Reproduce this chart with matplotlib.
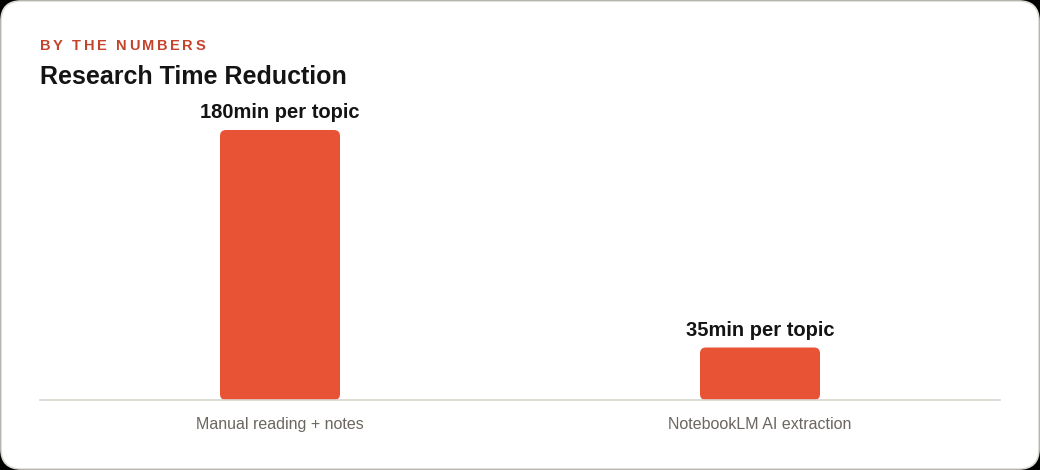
import matplotlib
matplotlib.use("Agg")
import matplotlib.pyplot as plt
from matplotlib.patches import FancyBboxPatch

plt.rcParams['font.family'] = ['Liberation Sans', 'DejaVu Sans']

categories = ["Manual reading + notes", "NotebookLM AI extraction"]
minutes = [180, 35]
value_labels = ["180min per topic", "35min per topic"]

W, H = 1040, 470
fig = plt.figure(figsize=(W / 100, H / 100), dpi=100, facecolor='black')

# card background
card = FancyBboxPatch((1, 1), W - 2, H - 2, boxstyle="round,pad=0,rounding_size=20",
                      transform=None, facecolor='white', edgecolor='#dddad4', linewidth=1.2,
                      zorder=-10)
fig.patches.append(card)

# eyebrow text with letter spacing
renderer = fig.canvas.get_renderer()
x = 40
for ch in "BY THE NUMBERS":
    t = fig.text(x / W, 1 - 50 / H, ch, fontsize=10.5, fontweight='bold', color='#c4432b',
                 va='baseline', ha='left')
    w = t.get_window_extent(renderer).width if ch != ' ' else 4
    x += w + 2.6

fig.text(40 / W, 1 - 84 / H, "Research Time Reduction", fontsize=18, fontweight='bold',
         color='#141414', va='baseline', ha='left')

ax = fig.add_axes([40 / W, (H - 400) / H, 960 / W, 300 / H])
ax.set_facecolor('none')
ax.set_xlim(-0.5, 1.5)
ax.set_ylim(0, 200)

bw = 0.25
px_x = 480.0
px_y = 1.5
for i, (v, lab) in enumerate(zip(minutes, value_labels)):
    bar = FancyBboxPatch((i - bw / 2, 0), bw, v,
                         boxstyle="round,pad=0,rounding_size=%f" % (6 / px_x),
                         mutation_aspect=px_x / px_y,
                         facecolor='#e85235', edgecolor='none')
    ax.add_patch(bar)
    ax.text(i, v + 12 / px_y, lab, ha='center', va='baseline', fontsize=14.5,
            fontweight='bold', color='#141414')

ax.set_xticks(range(len(categories)))
ax.set_xticklabels(categories, fontsize=11.5, color='#6b6660')
ax.tick_params(axis='x', length=0, pad=12)
ax.set_yticks([])
for s in ['top', 'right', 'left']:
    ax.spines[s].set_visible(False)
ax.spines['bottom'].set_color('#d9d5ce')
ax.spines['bottom'].set_linewidth(1.2)

fig.savefig("out.png", dpi=100, facecolor=fig.get_facecolor())
